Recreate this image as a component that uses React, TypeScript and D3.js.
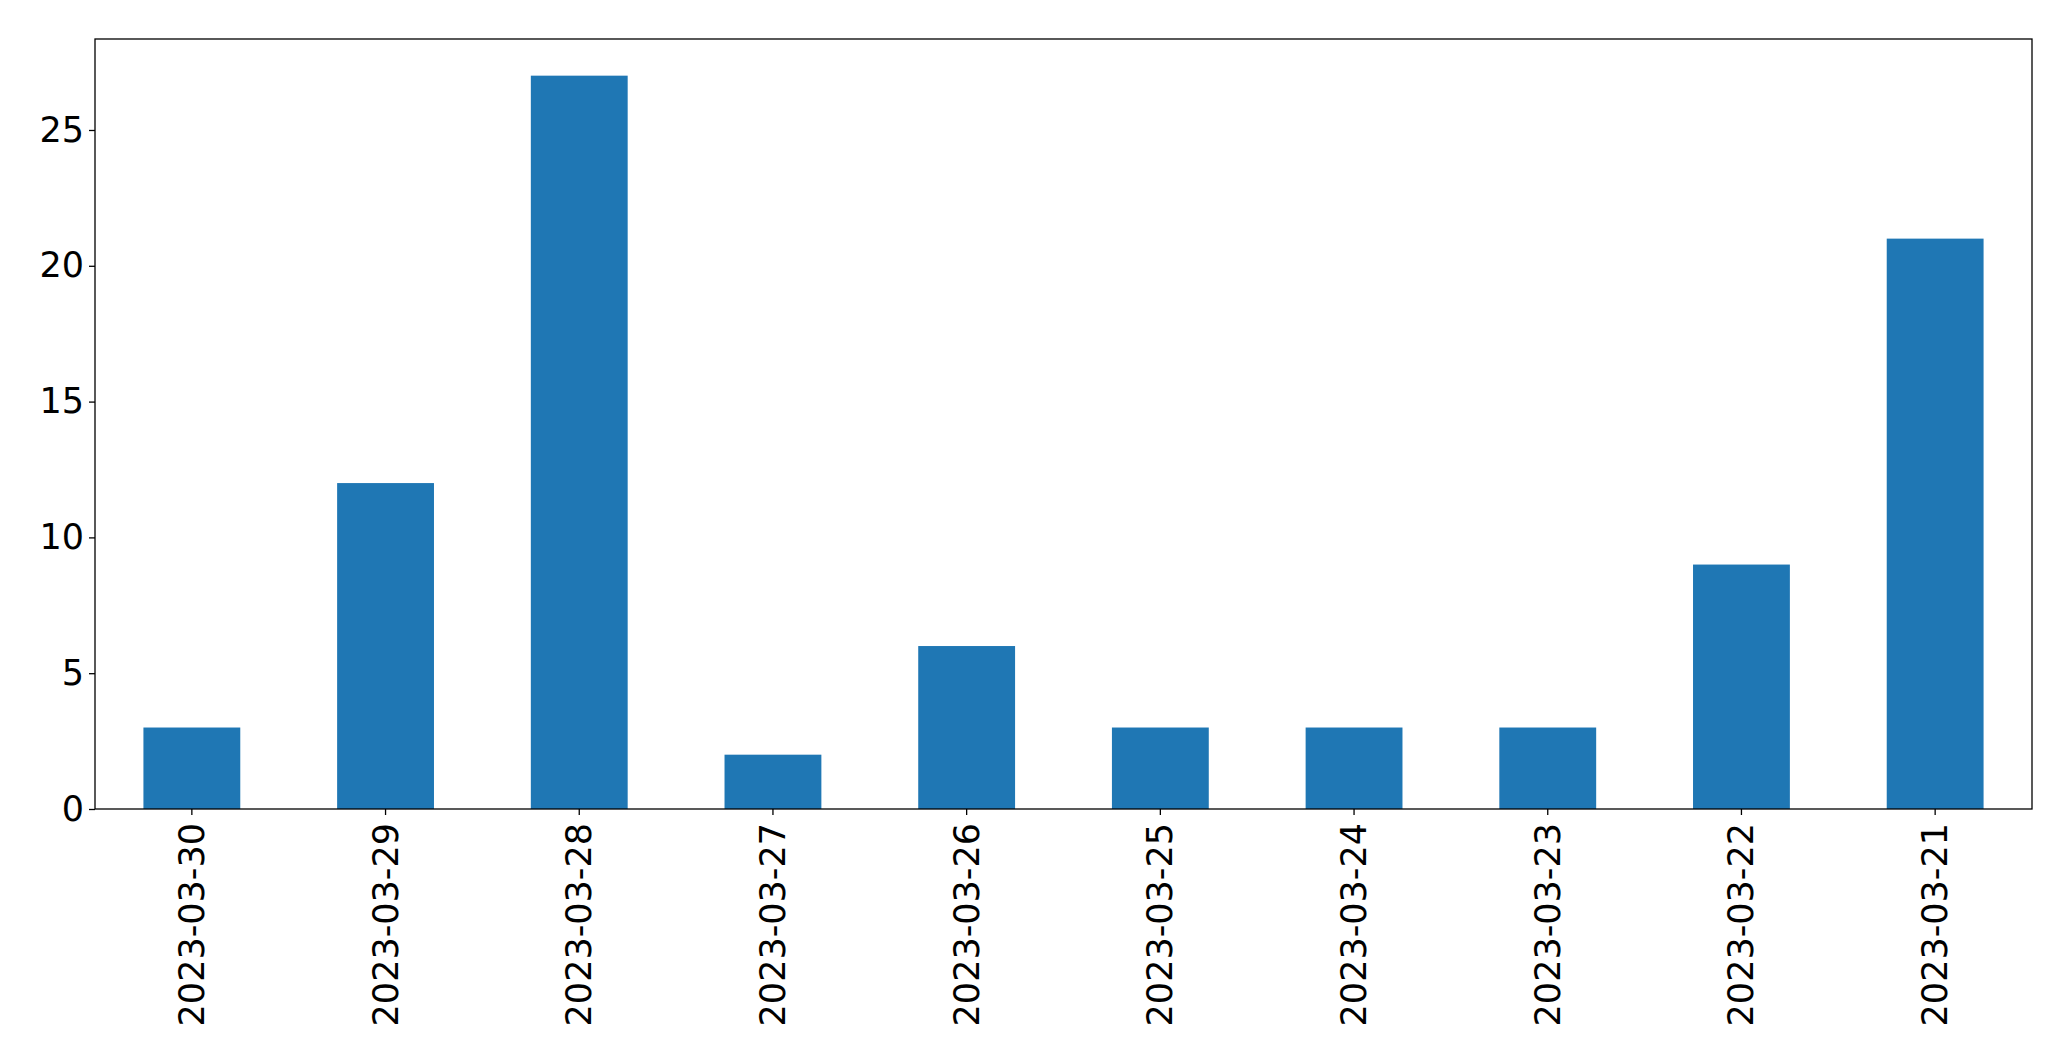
import * as d3 from 'd3';
import React from 'react';

const dates = ['2023-03-30', '2023-03-29', '2023-03-28', '2023-03-27', '2023-03-26', '2023-03-25', '2023-03-24', '2023-03-23', '2023-03-22', '2023-03-21'];
const counts = [3, 12, 27, 2, 6, 3, 3, 3, 9, 21];
const yTicks = [0, 5, 10, 15, 20, 25];

const W = 2071;
const H = 1061;
const margin = { top: 39, right: 39, bottom: 252, left: 95 };
const FONT = 'DejaVu Sans, sans-serif';
const FS = 35;

export default function App() {
  const ref = React.useRef<SVGSVGElement>(null);

  React.useEffect(() => {
    if (!ref.current) return;
    const svg = d3.select(ref.current);
    svg.selectAll('*').remove();

    const innerW = W - margin.left - margin.right;
    const innerH = H - margin.top - margin.bottom;
    const g = svg.append('g').attr('transform', `translate(${margin.left},${margin.top})`);

    // matplotlib-style bars: width 0.5 of step, half-step outer margin
    const x = d3.scaleBand<string>().domain(dates).range([0, innerW]).paddingInner(0.5).paddingOuter(0.25);
    const y = d3.scaleLinear().domain([0, d3.max(counts)! * 1.05]).range([innerH, 0]);

    g.selectAll('rect.bar')
      .data(counts)
      .enter()
      .append('rect')
      .attr('class', 'bar')
      .attr('x', (_, i) => x(dates[i])!)
      .attr('y', (d) => y(d))
      .attr('width', x.bandwidth())
      .attr('height', (d) => innerH - y(d))
      .attr('fill', '#1f77b4');

    // y axis
    const yAxis = g.append('g').call(d3.axisLeft(y).tickValues(yTicks).tickSize(6).tickPadding(5).tickFormat(d3.format('d')) as any);
    yAxis.select('.domain').remove();
    yAxis.selectAll('text').attr('font-family', FONT).attr('font-size', FS).attr('fill', '#000');
    yAxis.selectAll('line').attr('stroke', '#000').attr('stroke-width', 1.3);

    // x axis, labels rotated 90
    const xAxis = g.append('g').attr('transform', `translate(0,${innerH})`).call(d3.axisBottom(x).tickSize(6).tickPadding(8) as any);
    xAxis.select('.domain').remove();
    xAxis.selectAll('line').attr('stroke', '#000').attr('stroke-width', 1.3);
    xAxis
      .selectAll('text')
      .attr('font-family', FONT)
      .attr('font-size', FS)
      .attr('fill', '#000')
      .attr('text-anchor', 'end')
      .attr('dy', null)
      .attr('dominant-baseline', 'central')
      .attr('transform', 'translate(0,14) rotate(-90)')
      .attr('y', 0)
      .attr('x', 0);

    // frame
    g.append('rect')
      .attr('x', 0)
      .attr('y', 0)
      .attr('width', innerW)
      .attr('height', innerH)
      .attr('fill', 'none')
      .attr('stroke', '#000')
      .attr('stroke-width', 1.3);
  }, []);

  return (
    <svg
      ref={ref}
      width={W}
      height={H}
      style={{ position: 'absolute', top: 0, left: 0, background: '#fff' }}
    />
  );
}
